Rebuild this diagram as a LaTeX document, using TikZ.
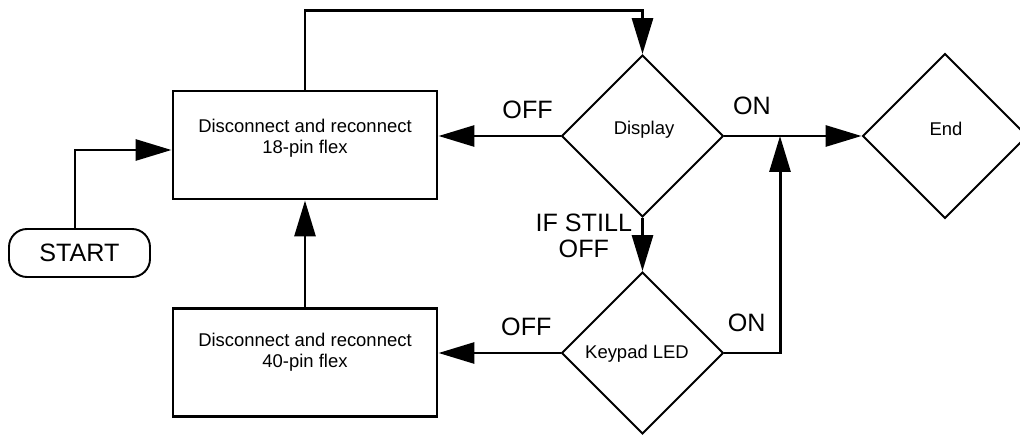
\documentclass[tikz,border=0pt]{standalone}
\usepackage{fontspec}
\setmainfont{Liberation Sans}
\usetikzlibrary{arrows.meta, shapes.geometric}

\begin{document}
\begin{tikzpicture}[
    font=\fontsize{10.5}{12.2}\selectfont,
    box/.style={draw, line width=1.7pt, minimum width=5.28cm, minimum height=2.16cm, inner sep=0pt},
    dec/.style={draw, diamond, aspect=1, line width=1.1pt, minimum size=3.24cm, inner sep=0pt},
    term/.style={draw, rounded corners=0.36cm, line width=1.1pt, minimum width=2.82cm,
                 minimum height=0.96cm, font=\fontsize{14.3}{14.5}\selectfont},
    txt/.style={align=center, inner sep=0pt},
    lbl/.style={font=\fontsize{14.3}{14.5}\selectfont, align=center, inner sep=0pt},
    arr/.style={-{Triangle[length=0.72cm, width=0.42cm]}, line width=1.7pt},
  ]
  \useasboundingbox (0,0) rectangle (20.4,8.74);

  \node[term] (start) at (1.59,3.68) {START};

  \node[box] (flexa) at (6.10,5.84) {};
  \node[txt] (flexatxt) at (6.10,5.97) {Disconnect and reconnect\\18-pin flex};

  \node[box] (flexb) at (6.10,1.49) {};
  \node[txt] (flexbtxt) at (6.10,1.69) {Disconnect and reconnect\\40-pin flex};

  \node[dec] (disp) at (12.85,6.02) {};
  \node[txt] (disptxt) at (12.88,6.14) {Display};

  \node[dec] (key) at (12.85,1.68) {};
  \node[txt] (keytxt) at (12.74,1.66) {Keypad LED};

  \node[dec, minimum size=3.3cm] (endd) at (18.90,6.02) {};
  \node[txt] (endtxt) at (18.92,6.16) {End};

  \coordinate (join) at (15.60,6.02);

  \draw[arr] ([xshift=-0.09cm]start.north) |- ([yshift=-0.1cm]flexa.west);

  \draw[arr] (flexa.north) |- ([yshift=0.88cm]disp.north) -- (disp.north);

  \draw[arr] (disp.west) -- (disp.west -| flexa.east)
    node[lbl, pos=0.27, above=0.32cm] {OFF};

  \draw[arr] (disp.east) -- (endd.west)
    node[lbl, pos=0.2, above=0.4cm] {ON};

  \draw[arr] (disp.south) -- (key.north)
    node[lbl, pos=0.34, left=0.18cm] {IF STILL\\OFF};

  \draw[arr] (key.west) -- (key.west -| flexb.east)
    node[lbl, pos=0.28, above=0.32cm] {OFF};

  \draw[arr] (key.east) -| (join)
    node[lbl, pos=0.2, above=0.4cm] {ON};

  \draw[arr] (flexb.north) -- (flexa.south);

\end{tikzpicture}
\end{document}
